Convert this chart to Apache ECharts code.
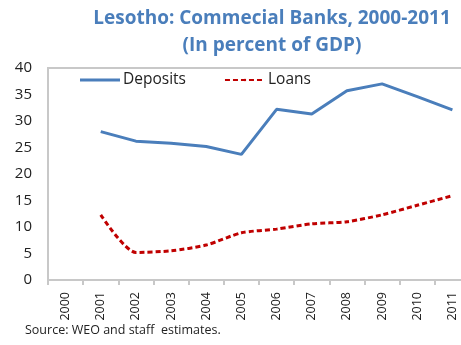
<!DOCTYPE html>
<html><head><meta charset="utf-8">
<script src="https://cdn.jsdelivr.net/npm/echarts@6/dist/echarts.min.js"></script>
<style>html,body{margin:0;padding:0;background:#fff;overflow:hidden;width:461px;height:345px}#c{width:470px;height:345px}</style>
</head><body><div id="c"></div>
<script>
const years = ['2000','2001','2002','2003','2004','2005','2006','2007','2008','2009','2010','2011'];
const deposits = [null, 28.0, 26.2, 25.8, 25.2, 23.7, 32.2, 31.3, 35.7, 37.0, 34.6, 32.1];
const loans = [null, 12.3, 5.2, 5.5, 6.6, 8.9, 9.6, 10.6, 11.0, 12.3, 14.1, 15.9];
const yTicks = {min: 0, max: 40, interval: 5};

const chart = echarts.init(document.getElementById('c'));
const font = 'Open Sans, Liberation Sans, sans-serif';
chart.setOption({
  animation: false,
  title: {
    text: 'Lesotho: Commecial Banks, 2000-2011\n(In percent of GDP)',
    left: 272, top: 5, textAlign: 'center', padding: 0,
    textStyle: {color: '#4a7ebb', fontSize: 19, fontWeight: 'bold', fontFamily: font, lineHeight: 27}
  },
  legend: {
    left: 80, top: 72, padding: 0, itemWidth: 40, itemHeight: 3, itemGap: 38,
    textStyle: {fontSize: 15.5, color: '#222', fontFamily: font, padding: [0,0,0,-2]},
    data: [{name: 'Deposits', icon: 'rect'}, {name: 'Loans'}]
  },
  grid: {left: 48, top: 68, right: 0, bottom: 65, show: true, borderColor: '#c8c8c8', borderWidth: 2},
  xAxis: {
    type: 'category', data: years, boundaryGap: true,
    axisLine: {lineStyle: {color: '#c8c8c8', width: 2}},
    axisTick: {show: true, length: 5, lineStyle: {color: '#c8c8c8', width: 2}},
    axisLabel: {rotate: 90, color: '#222', fontSize: 12.5, fontFamily: font, margin: 12}
  },
  yAxis: {
    type: 'value', min: yTicks.min, max: yTicks.max, interval: yTicks.interval,
    splitLine: {show: false},
    axisLine: {show: true, lineStyle: {color: '#c8c8c8', width: 2}},
    axisTick: {show: false},
    axisLabel: {color: '#222', fontSize: 15, fontFamily: font, margin: 16}
  },
  series: [
    {name: 'Deposits', type: 'line', data: deposits, symbol: 'none', lineStyle: {color: '#4a7ebb', width: 3}, itemStyle: {color: '#4a7ebb'}},
    {name: 'Loans', type: 'line', data: loans, symbol: 'none', smooth: 0.25, lineStyle: {color: '#c00000', width: 3, type: [5, 3]}, itemStyle: {color: '#c00000'}}
  ],
  graphic: [{type: 'text', left: 25, top: 324, style: {text: 'Source: WEO and staff  estimates.', fontSize: 12.5, fill: '#222', fontFamily: font}}]
});
</script></body></html>
